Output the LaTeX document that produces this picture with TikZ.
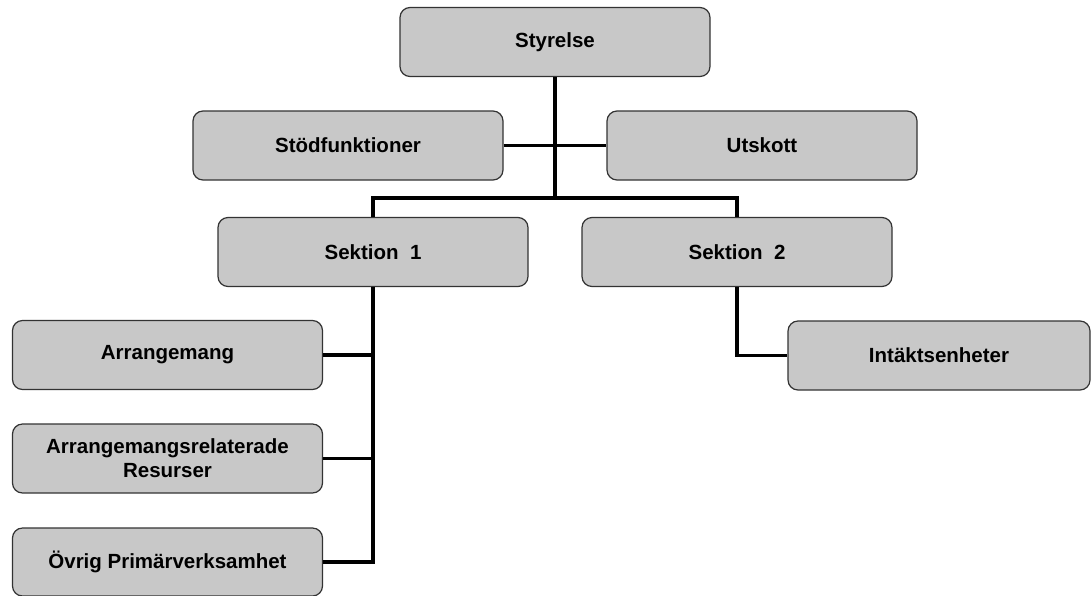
\documentclass[tikz,border=0pt]{standalone}
\usepackage{fontspec}
\setmainfont{Liberation Sans}
\usepackage{tikz}
\usetikzlibrary{calc}
\definecolor{boxgray}{RGB}{200,200,200}

\begin{document}
\begin{tikzpicture}[x=1pt,y=-1pt,
		box/.style={draw=black!80,line width=1.2pt,fill=boxgray,rounded corners=10pt,
			minimum width=310pt,minimum height=69pt,align=center,
			font=\fontsize{20.5}{24}\selectfont\bfseries},
		conn/.style={line width=3.2pt,black}]
		\useasboundingbox (0,0) rectangle (1091,595);
		\node[box] (styrelse) at (555,42) {Styrelse}; %topp
		\node[box] (stod) at (348,145.5) {Stödfunktioner};
		\node[box] (utskott) at (762,145.5) {Utskott};
		\node[box] (sek1) at (373,252) {Sektion\ \ 1};
		\node[box] (sek2) at (737,252) {Sektion\ \ 2};
		\node[box] (arr) at (167.5,355) {Arrangemang};
		\node[box] (res) at (167.5,458.5) {Arrangemangsrelaterade\\Resurser};
		\node[box,minimum height=68pt] (ovr) at (167.5,562) {Övrig Primärverksamhet};
		\node[box,minimum width=302pt] (int) at (939,355.5) {Intäktsenheter};
		\coordinate (split) at (555,198);
		\draw[conn] (styrelse.south)--(split);
		\draw[conn] (stod.east)--(utskott.west);
		\draw[conn] (sek1.north)|-(split)-|(sek2.north);
		\draw[conn] (sek1.south)|-(ovr.east); %sektion 1
		\draw[conn] (arr.east)--(arr.east -| sek1.south);
		\draw[conn] (res.east)--(res.east -| sek1.south);
		\draw[conn] (sek2.south)|-(int.west); %sektion 2
	\end{tikzpicture}
\end{document}
